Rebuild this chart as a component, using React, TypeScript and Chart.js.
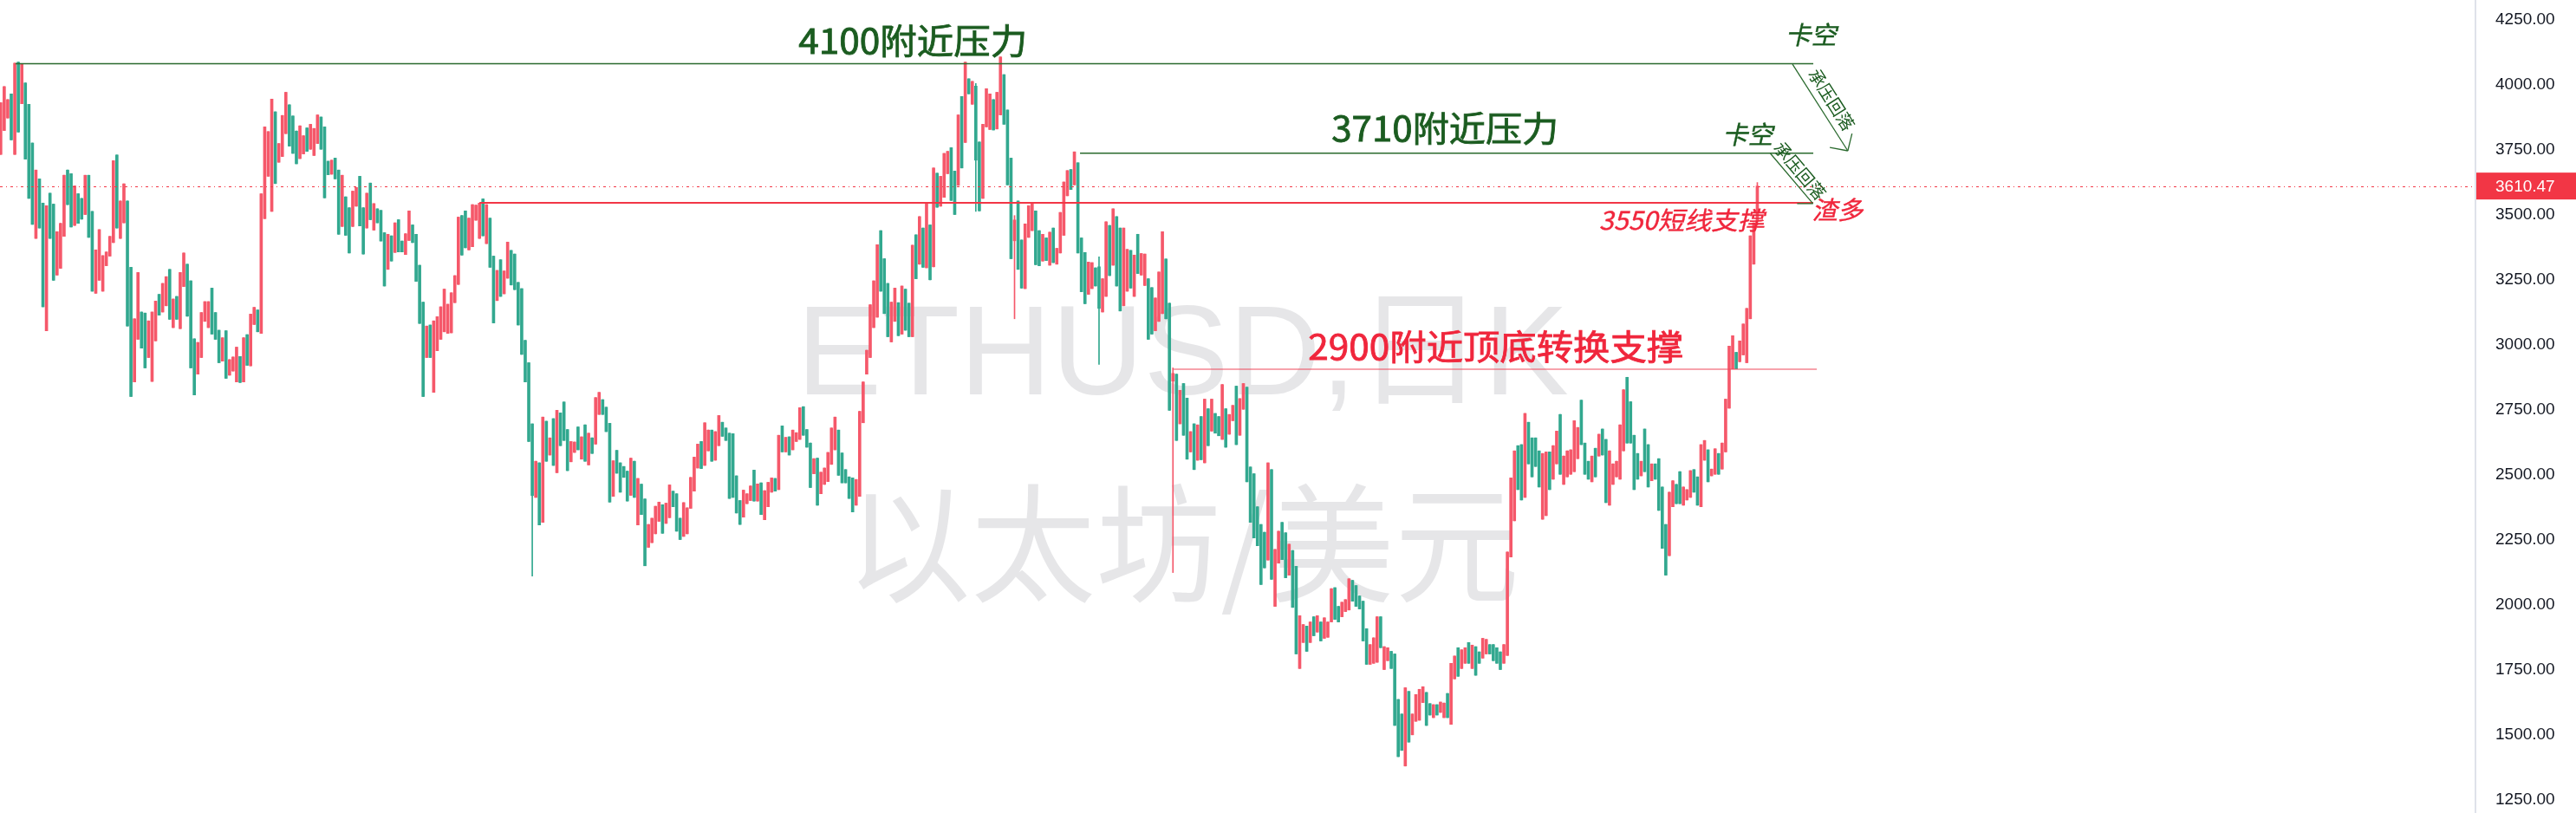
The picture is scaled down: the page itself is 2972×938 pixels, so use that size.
import React, { useEffect, useRef } from 'react';
import { Chart, registerables } from 'chart.js';

Chart.register(...registerables);

// ETHUSD daily candles (oldest -> newest)
const opens = [
  3732,3824,3872,3965,3732,4087,3927,4007,3925,3776,
  3409,3638,3545,3054,3583,3541,3268,3294,3417,3672,
  3658,3459,3581,3563,3501,3652,3513,3198,3248,3206,
  3304,3341,3393,3730,3409,3469,3553,3298,2857,3021,
  3126,3122,2951,2859,3015,3194,3126,3150,3290,3066,
  3186,3062,3224,3310,3246,3023,2887,2951,3090,3066,
  3218,3124,3056,2937,3054,2883,2899,2857,2955,2857,
  3039,2919,3078,3134,3044,3485,3648,3513,3896,3702,
  3724,3812,3923,3880,3822,3716,3734,3834,3752,3728,
  3774,3876,3838,3706,3656,3718,3672,3455,3569,3527,
  3455,3533,3648,3527,3449,3622,3441,3523,3517,3431,
  3290,3419,3355,3481,3399,3347,3401,3461,3425,3306,
  3164,2951,3076,2817,2977,3021,3050,3044,3046,3162,
  3232,3497,3515,3365,3377,3479,3409,3561,3389,3487,
  3341,3170,3327,3196,3256,3363,3349,3240,3216,3017,
  2931,2696,2413,2546,2317,2706,2576,2716,2508,2738,
  2780,2674,2550,2586,2684,2560,2692,2538,2642,2618,
  2732,2789,2760,2698,2417,2594,2546,2532,2514,2421,
  2552,2307,2464,2407,2221,2239,2273,2321,2385,2313,
  2335,2437,2427,2333,2263,2273,2371,2437,2526,2628,
  2536,2592,2672,2556,2612,2702,2680,2660,2658,2496,
  2401,2337,2389,2401,2518,2399,2469,2327,2377,2433,
  2486,2443,2688,2588,2646,2596,2628,2636,2762,2674,
  2622,2504,2564,2427,2463,2474,2540,2596,2672,2584,
  2520,2492,2488,2383,2417,2700,2887,2951,3066,3106,
  3439,3331,3236,3011,3090,3162,3041,3214,3160,3031,
  3423,3310,3449,3296,3461,3300,3660,3533,3567,3658,
  3758,3668,3613,3955,3778,4023,3925,3995,3780,3563,
  3838,3828,3943,3830,3884,4039,3903,3718,3400,3553,
  3403,3216,3413,3439,3515,3439,3322,3411,3306,3449,
  3310,3353,3421,3573,3674,3615,3700,3411,3355,3194,
  3216,3296,3300,3126,3186,3459,3306,3493,3449,3150,
  3206,3363,3186,3425,3268,3228,3254,3220,3054,3090,
  3120,3330,3160,2860,2887,2696,2851,2795,2588,2696,
  2556,2724,2546,2754,2668,2736,2724,2636,2754,2656,
  2708,2841,2652,2752,2837,2530,2504,2377,2309,2279,
  2172,2520,1994,2160,2317,2277,2114,2209,2148,1755,
  1855,1918,1855,1954,1895,1934,1871,1875,1934,2066,
  1994,1954,1974,1980,2094,2074,2034,2014,1908,1771,
  1775,1779,1954,1751,1785,1821,1811,1636,1580,1380,
  1667,1500,1552,1556,1624,1663,1620,1566,1616,1586,
  1566,1659,1540,1715,1835,1755,1775,1855,1755,1839,
  1819,1795,1811,1847,1847,1835,1819,1775,1805,2184,
  2323,2612,2616,2413,2702,2642,2642,2592,2329,2343,
  2588,2483,2542,2732,2463,2492,2502,2512,2562,2787,
  2622,2552,2473,2602,2572,2676,2636,2383,2463,2492,
  2483,2592,2875,2781,2652,2582,2496,2676,2616,2477,
  2542,2562,2453,2309,2189,2377,2463,2512,2383,2403,
  2413,2520,2492,2377,2556,2596,2496,2502,2582,2522,
  2588,2756,2907,2971,2935,2961,2931,3100,3310,3475,
];

const highs = [
  3931,3993,3943,3965,4083,4087,4079,4007,3925,3776,
  3672,3638,3545,3535,3583,3541,3435,3467,3652,3672,
  3658,3611,3581,3563,3652,3652,3513,3365,3443,3343,
  3357,3417,3708,3730,3553,3619,3553,3298,3100,3278,
  3126,3122,3092,3126,3168,3194,3236,3262,3290,3176,
  3186,3278,3353,3310,3246,3023,3009,3124,3166,3166,
  3218,3124,3056,3027,3054,2943,2953,2991,2955,3027,
  3039,3118,3144,3134,3581,3838,3820,3945,3896,3774,
  3882,3971,3923,3880,3822,3842,3804,3834,3848,3832,
  3884,3876,3838,3706,3710,3718,3672,3652,3569,3527,
  3591,3605,3648,3527,3583,3622,3543,3523,3517,3431,
  3425,3419,3469,3481,3399,3427,3515,3461,3425,3306,
  3164,3072,3076,3092,3108,3146,3214,3156,3200,3266,
  3491,3497,3515,3487,3539,3537,3545,3561,3539,3487,
  3341,3286,3327,3284,3395,3363,3349,3240,3216,3017,
  2931,2696,2552,2546,2722,2706,2642,2716,2748,2738,
  2780,2674,2628,2626,2684,2646,2692,2660,2642,2797,
  2817,2789,2760,2698,2554,2594,2546,2532,2514,2564,
  2552,2486,2464,2407,2309,2333,2379,2395,2385,2391,
  2461,2437,2427,2333,2393,2373,2490,2568,2618,2628,
  2700,2672,2672,2666,2728,2702,2680,2660,2658,2496,
  2401,2441,2427,2457,2518,2465,2469,2439,2471,2488,
  2486,2652,2688,2644,2646,2672,2662,2758,2762,2674,
  2622,2562,2564,2510,2526,2586,2680,2722,2672,2584,
  2520,2492,2488,2482,2744,2857,2979,3154,3246,3385,
  3439,3331,3236,3164,3218,3162,3226,3214,3160,3383,
  3423,3493,3449,3543,3461,3680,3660,3648,3736,3744,
  3758,3668,3884,3955,4087,4023,4013,4005,3780,3848,
  3985,3965,3943,3971,4107,4039,3903,3718,3497,3553,
  3403,3465,3535,3543,3515,3439,3425,3411,3433,3449,
  3371,3509,3626,3670,3674,3742,3700,3411,3355,3318,
  3316,3296,3338,3254,3473,3459,3523,3493,3449,3449,
  3367,3363,3345,3425,3351,3349,3254,3220,3180,3280,
  3435,3330,3160,2911,2887,2825,2851,2795,2666,2696,
  2692,2724,2791,2754,2791,2736,2724,2847,2754,2732,
  2767,2841,2793,2851,2837,2530,2504,2377,2309,2279,
  2546,2520,2213,2283,2317,2277,2233,2209,2148,1958,
  1924,1918,1934,1954,1958,1934,1950,1934,2062,2066,
  1994,2010,2020,2100,2094,2074,2034,2014,1908,1847,
  1873,1954,1954,1839,1835,1821,1811,1636,1580,1681,
  1667,1580,1655,1675,1685,1663,1620,1616,1616,1626,
  1622,1659,1775,1803,1835,1827,1835,1855,1845,1839,
  1819,1871,1867,1847,1847,1835,1819,1847,2203,2488,
  2592,2612,2616,2736,2702,2642,2642,2592,2582,2588,
  2588,2612,2668,2732,2572,2592,2596,2708,2682,2787,
  2622,2552,2572,2602,2656,2676,2636,2592,2542,2552,
  2692,2827,2875,2781,2652,2582,2552,2676,2616,2542,
  2542,2562,2453,2309,2433,2477,2463,2512,2453,2443,
  2516,2520,2492,2616,2632,2596,2522,2600,2582,2622,
  2791,2995,3035,2971,3015,3080,3140,3419,3469,3624,
];

const lows = [
  3732,3824,3872,3788,3732,3818,3927,3714,3563,3463,
  3409,3449,3146,3054,3409,3248,3268,3294,3417,3539,
  3453,3459,3467,3483,3501,3413,3206,3198,3248,3206,
  3304,3341,3393,3449,3409,3469,3072,2801,2857,3021,
  2987,2911,2951,2859,3015,3114,3126,3150,3098,3066,
  3098,3062,3224,3110,2911,2807,2887,2951,3090,3066,
  3041,3021,2931,2937,2871,2883,2899,2857,2855,2857,
  2921,2919,3078,3050,3044,3485,3648,3513,3620,3702,
  3724,3812,3764,3736,3696,3716,3734,3744,3752,3728,
  3774,3752,3565,3654,3656,3638,3425,3455,3421,3353,
  3455,3533,3457,3349,3449,3481,3441,3469,3399,3226,
  3290,3322,3355,3357,3357,3347,3401,3393,3244,3082,
  2801,2951,2951,2817,2977,3021,3050,3044,3046,3162,
  3232,3345,3373,3365,3377,3479,3409,3419,3389,3298,
  3084,3170,3186,3196,3256,3230,3212,3076,2963,2857,
  2628,2110,2413,2307,2317,2552,2576,2536,2508,2612,
  2632,2516,2550,2586,2596,2560,2552,2538,2582,2618,
  2732,2732,2666,2395,2417,2506,2433,2490,2399,2421,
  2413,2307,2347,2150,2221,2239,2273,2321,2275,2313,
  2335,2377,2283,2251,2263,2273,2371,2437,2526,2524,
  2536,2592,2552,2556,2612,2648,2632,2409,2413,2353,
  2309,2337,2389,2401,2399,2399,2347,2327,2377,2433,
  2437,2443,2588,2588,2576,2596,2628,2636,2652,2606,
  2451,2504,2383,2427,2463,2474,2540,2596,2498,2469,
  2469,2409,2357,2383,2417,2700,2887,2951,3066,3106,
  3206,3120,3031,3011,3090,3035,3041,3056,3031,3031,
  3254,3310,3298,3296,3250,3300,3529,3533,3567,3658,
  3555,3501,3613,3680,3778,3965,3925,3513,3515,3563,
  3838,3828,3826,3830,3884,3848,3615,3331,3100,3290,
  3218,3216,3413,3439,3308,3304,3322,3324,3306,3316,
  3310,3353,3421,3573,3597,3615,3353,3204,3158,3194,
  3216,3226,2925,3126,3186,3266,3306,3226,3130,3150,
  3206,3218,3186,3274,3268,3228,3021,3041,3054,3090,
  3120,3100,2748,2124,2632,2696,2652,2560,2588,2520,
  2556,2558,2546,2612,2668,2660,2650,2636,2606,2656,
  2708,2616,2652,2752,2473,2317,2257,2227,2078,2142,
  2172,2098,1994,2160,2174,2104,2114,1990,1811,1755,
  1855,1821,1855,1881,1895,1861,1871,1875,1934,1944,
  1934,1954,1974,1980,2014,1994,1984,1861,1771,1771,
  1775,1779,1835,1751,1785,1755,1536,1416,1440,1380,
  1472,1500,1552,1556,1624,1536,1576,1566,1576,1586,
  1566,1566,1540,1715,1725,1755,1775,1775,1755,1729,
  1775,1795,1811,1811,1785,1775,1751,1775,1805,2184,
  2323,2443,2403,2413,2542,2492,2532,2453,2329,2343,
  2443,2483,2542,2502,2463,2492,2502,2512,2562,2616,
  2502,2483,2473,2492,2572,2576,2393,2383,2463,2492,
  2483,2592,2622,2622,2443,2483,2496,2512,2453,2477,
  2483,2363,2217,2114,2189,2377,2389,2389,2383,2403,
  2413,2433,2383,2377,2556,2473,2496,2502,2502,2522,
  2588,2756,2907,2907,2935,2961,2931,3100,3310,3460,
];

const closes = [
  3931,3993,3943,3788,4083,3818,4079,3714,3563,3463,
  3672,3449,3146,3535,3409,3248,3435,3467,3652,3539,
  3453,3611,3467,3483,3652,3413,3206,3365,3443,3343,
  3357,3417,3708,3449,3553,3619,3072,2801,3100,3278,
  2987,2911,3092,3126,3168,3114,3236,3262,3098,3176,
  3098,3278,3353,3110,2911,2807,3009,3124,3166,3166,
  3041,3021,2931,3027,2871,2943,2953,2991,2855,3027,
  2921,3118,3144,3050,3581,3838,3820,3945,3620,3774,
  3882,3971,3764,3736,3696,3842,3804,3744,3848,3832,
  3884,3752,3565,3654,3710,3638,3425,3652,3421,3353,
  3591,3605,3457,3349,3583,3481,3543,3469,3399,3226,
  3425,3322,3469,3357,3357,3427,3515,3393,3244,3082,
  2801,3072,2951,3092,3108,3146,3214,3156,3200,3266,
  3491,3345,3373,3487,3539,3537,3545,3419,3539,3298,
  3084,3286,3186,3284,3395,3230,3212,3076,2963,2857,
  2628,2420,2552,2307,2722,2552,2642,2536,2748,2612,
  2632,2516,2628,2626,2596,2646,2552,2660,2582,2797,
  2817,2732,2666,2395,2554,2506,2433,2490,2399,2564,
  2413,2486,2347,2150,2309,2333,2379,2395,2275,2391,
  2461,2377,2283,2251,2393,2373,2490,2568,2618,2524,
  2700,2672,2552,2666,2728,2648,2632,2409,2413,2353,
  2309,2441,2427,2457,2399,2465,2347,2439,2471,2488,
  2437,2652,2588,2644,2576,2672,2662,2758,2652,2606,
  2451,2562,2383,2510,2526,2586,2680,2722,2498,2469,
  2469,2409,2357,2482,2744,2857,2979,3154,3246,3385,
  3206,3120,3031,3164,3218,3035,3226,3056,3031,3383,
  3254,3493,3298,3543,3250,3680,3529,3648,3736,3744,
  3555,3501,3884,3680,4087,3965,4013,3710,3515,3848,
  3985,3965,3826,3971,4107,3848,3615,3331,3480,3290,
  3218,3465,3535,3543,3308,3304,3425,3324,3433,3316,
  3371,3509,3626,3670,3597,3742,3353,3204,3158,3318,
  3316,3226,3140,3254,3473,3266,3523,3226,3130,3449,
  3367,3218,3345,3274,3351,3349,3021,3041,3180,3280,
  3435,3100,2748,2890,2632,2825,2652,2560,2666,2520,
  2692,2558,2791,2612,2791,2660,2650,2847,2606,2732,
  2767,2616,2793,2851,2473,2317,2257,2227,2078,2142,
  2546,2098,2213,2283,2174,2104,2233,1990,1811,1958,
  1924,1821,1934,1881,1958,1861,1950,1934,2062,1944,
  1934,2010,2020,2100,2014,1994,1984,1861,1771,1847,
  1873,1954,1835,1839,1835,1755,1536,1416,1440,1681,
  1472,1580,1655,1675,1685,1536,1576,1616,1576,1626,
  1622,1566,1775,1803,1725,1827,1835,1775,1845,1729,
  1775,1871,1867,1811,1785,1775,1751,1847,2203,2488,
  2592,2443,2403,2736,2542,2492,2532,2453,2582,2588,
  2443,2612,2668,2502,2572,2592,2596,2708,2682,2616,
  2502,2483,2572,2492,2656,2576,2393,2592,2542,2552,
  2692,2827,2622,2622,2443,2483,2552,2512,2453,2542,
  2483,2363,2217,2114,2433,2477,2389,2389,2453,2443,
  2516,2433,2383,2616,2632,2473,2522,2600,2502,2622,
  2791,2995,3035,2907,3015,3080,3140,3419,3469,3610.47,
];

const yTicks = [1250, 1500, 1750, 2000, 2250, 2500, 2750, 3000, 3250, 3500, 3750, 4000, 4250];
const lastPrice = 3610.47;
const resistance4100 = 4081;
const resistance3710 = 3737;
const support3550 = 3546;
const support2900 = 2906;

const UP = '#f5586a';
const DOWN = '#32a88f';
const GREEN_TXT = '#1b5c20';
const RED_TXT = '#f0263c';

function drawText(ctx: any, text: string, cx: number, cy: number, font: string, color: string, opts: any = {}) {
  ctx.save();
  ctx.font = font;
  ctx.fillStyle = color;
  ctx.textAlign = 'center';
  ctx.textBaseline = opts.baseline || 'middle';
  const w = ctx.measureText(text).width;
  ctx.translate(cx, cy);
  if (opts.rot) ctx.rotate(opts.rot);
  if (opts.skew) ctx.transform(1, 0, -opts.skew, 1, 0, 0);
  if (opts.width) ctx.scale(opts.width / w, 1);
  ctx.fillText(text, 0, 0);
  if (opts.stroke) {
    ctx.strokeStyle = color;
    ctx.lineWidth = opts.stroke;
    ctx.strokeText(text, 0, 0);
  }
  ctx.restore();
}

function line(ctx: any, x1: number, y1: number, x2: number, y2: number, color: string, width: number) {
  ctx.save();
  ctx.strokeStyle = color;
  ctx.lineWidth = width;
  ctx.beginPath();
  ctx.moveTo(x1, y1);
  ctx.lineTo(x2, y2);
  ctx.stroke();
  ctx.restore();
}

export default function App() {
  const ref = useRef<HTMLCanvasElement>(null);

  useEffect(() => {
    const canvas = ref.current as HTMLCanvasElement;
    const colors = closes.map((c, i) => (c >= opens[i] ? UP : DOWN));
    const wickData = highs.map((h, i) => ({ x: i, y: [lows[i], h] }));
    const bodyData = opens.map((o, i) => ({ x: i, y: [o, closes[i]] }));

    const overlay = {
      id: 'overlay',
      beforeDatasetsDraw(chart: any) {
        const ctx = chart.ctx;
        const wm = 'rgba(120,123,134,0.19)';
        drawText(ctx, 'ETHUSD,日K', 1364.5, 455, '147px "Liberation Sans", "Noto Sans CJK SC", sans-serif', wm, { baseline: 'alphabetic', width: 891 });
        drawText(ctx, '以太坊/美元', 1364.5, 627, '148px "Noto Sans CJK SC", "Liberation Sans", sans-serif', wm, { width: 777 });
      },
      afterDatasetsDraw(chart: any) {
        const ctx = chart.ctx;
        const xs = chart.scales.x;
        const ys = chart.scales.y;
        const X = (v: number) => xs.getPixelForValue(v);
        const Y = (v: number) => ys.getPixelForValue(v);
        const area = chart.chartArea;

        // current price dotted line
        ctx.save();
        ctx.strokeStyle = '#f23645';
        ctx.lineWidth = 1.2;
        ctx.setLineDash([3, 4, 1, 4]);
        ctx.beginPath();
        ctx.moveTo(area.left, Math.round(Y(lastPrice)) + 0.5);
        ctx.lineTo(area.right, Math.round(Y(lastPrice)) + 0.5);
        ctx.stroke();
        ctx.restore();

        const green = '#2a6a2e';
        // resistance lines
        line(ctx, X(4.2), Y(resistance4100), X(514.9), Y(resistance4100), green, 1.6);
        line(ctx, X(306.6), Y(resistance3710), X(514.9), Y(resistance3710), green, 1.6);
        // support lines
        line(ctx, X(136), Y(support3550), X(514.9), Y(support3550), '#f23645', 1.8);
        line(ctx, X(333.2), Y(support2900), X(515.9), Y(support2900), '#f0485a', 1.2);

        // arrows
        line(ctx, X(509.0), Y(4079), X(524.7), Y(3746), green, 1.3);
        line(ctx, X(524.7), Y(3746), X(519.6), Y(3759), green, 1.3);
        line(ctx, X(524.7), Y(3746), X(525.9), Y(3812), green, 1.3);
        line(ctx, X(502.7), Y(3736), X(514.8), Y(3543), green, 1.3);
        line(ctx, X(514.8), Y(3543), X(510.3), Y(3543), green, 1.3);

        const cjk = '"Noto Sans CJK SC", sans-serif';
        drawText(ctx, '4100附近压力', X(259.1), Y(4171), `40px ${cjk}`, GREEN_TXT, { width: 264, stroke: 0.8 });
        drawText(ctx, '3710附近压力', X(410.3), Y(3834), `40px ${cjk}`, GREEN_TXT, { width: 262, stroke: 0.8 });
        drawText(ctx, '2900附近顶底转换支撑', X(424.7), Y(2994), `40px ${cjk}`, RED_TXT, { width: 433, stroke: 0.8 });
        drawText(ctx, '3550短线支撑', X(478.1), Y(3481), `29px ${cjk}`, RED_TXT, { width: 191, skew: 0.22, stroke: 0.4 });
        drawText(ctx, '渣多', X(522.4), Y(3518), `29px ${cjk}`, RED_TXT, { width: 59, skew: 0.22, stroke: 0.4 });
        drawText(ctx, '卡空', X(514.9), Y(4193), `29px ${cjk}`, GREEN_TXT, { width: 59, skew: 0.22, stroke: 0.4 });
        drawText(ctx, '卡空', X(496.9), Y(3811), `29px ${cjk}`, GREEN_TXT, { width: 58, skew: 0.22, stroke: 0.4 });
        drawText(ctx, '承压回落', X(520.1), Y(3943), `20px ${cjk}`, GREEN_TXT, { rot: (57.5 * Math.PI) / 180 });
        drawText(ctx, '承压回落', X(511.1), Y(3670), `20px ${cjk}`, GREEN_TXT, { rot: (49.7 * Math.PI) / 180 });
      },
      afterDraw(chart: any) {
        const ctx = chart.ctx;
        const ys = chart.scales.y;
        const y = ys.getPixelForValue(lastPrice);
        ctx.save();
        ctx.fillStyle = '#f23645';
        ctx.fillRect(ys.left + 1, y - 15.5, ys.width, 31);
        ctx.fillStyle = '#ffffff';
        ctx.font = '19px "Liberation Sans", Arial, sans-serif';
        ctx.textAlign = 'left';
        ctx.textBaseline = 'middle';
        ctx.fillText(lastPrice.toFixed(2), ys.left + 23, y + 1);
        ctx.restore();
      },
    };

    const chart = new Chart(canvas, {
      type: 'bar',
      data: {
        datasets: [
          { label: 'wick', data: wickData as any, backgroundColor: colors, barThickness: 1, grouped: false, order: 2 } as any,
          { label: 'body', data: bodyData as any, backgroundColor: colors, barThickness: 3, grouped: false, minBarLength: 1, order: 1 } as any,
        ],
      },
      options: {
        responsive: false,
        animation: false,
        devicePixelRatio: 1,
        layout: { padding: 0 },
        plugins: { legend: { display: false }, tooltip: { enabled: false } },
        scales: {
          x: { type: 'linear', min: -0.2, max: 703, offset: false, display: false },
          y: {
            position: 'right',
            min: 1199.3,
            max: 4326,
            afterBuildTicks: (s: any) => {
              s.ticks = yTicks.map((v) => ({ value: v }));
            },
            afterFit: (s: any) => {
              s.width = 116;
              s.paddingTop = 0;
              s.paddingBottom = 0;
            },
            grid: { display: false, drawTicks: false },
            border: { display: true, color: '#dfe2ea', width: 2 },
            ticks: {
              padding: 23,
              crossAlign: 'near',
              color: '#131722',
              font: { family: '"Liberation Sans", Arial, sans-serif', size: 19 },
              callback: (v: any) => Number(v).toFixed(2),
            },
          },
        },
      } as any,
      plugins: [overlay],
    });
    return () => chart.destroy();
  }, []);

  return (
    <div style={{ position: 'absolute', left: 0, top: 0, width: 2972, height: 938, background: '#ffffff' }}>
      <canvas ref={ref} width={2972} height={938} style={{ display: 'block', width: '2972px', height: '938px' }} />
    </div>
  );
}
